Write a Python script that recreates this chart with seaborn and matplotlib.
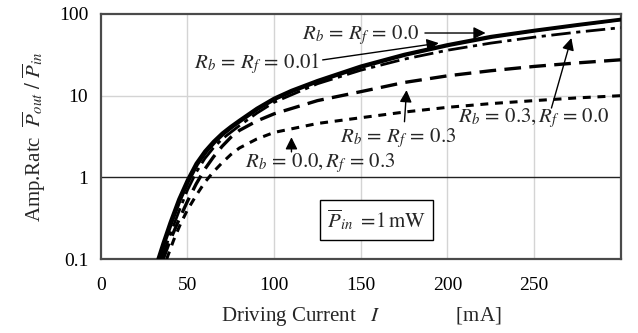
import matplotlib
matplotlib.use("Agg")
import matplotlib.pyplot as plt
import matplotlib.ticker as mticker
import seaborn as sns
import numpy as np

sns.set_style("white")
plt.rcParams['font.family'] = ['Liberation Serif', 'DejaVu Serif']
plt.rcParams['mathtext.fontset'] = 'stix'

# ---- data ----
I_00 = [33, 36, 40, 45, 50, 55, 60, 65, 70, 75, 80, 90, 100, 110, 125, 150, 175, 200, 225, 250, 275, 300]
P_00 = [0.1, 0.158, 0.28, 0.54, 0.93, 1.48, 2.09, 2.75, 3.47, 4.2, 5.0, 7.0, 9.3, 11.6, 15.3, 23, 32, 42, 53, 63, 74, 86]

I_001 = [34, 37, 41, 46, 51, 56, 61, 66, 71, 76, 81, 91, 101, 111, 126, 151, 176, 201, 226, 251, 276, 300]
P_001 = [0.1, 0.155, 0.27, 0.52, 0.9, 1.43, 2.02, 2.66, 3.36, 4.07, 4.85, 6.8, 9.0, 11.2, 14.8, 22.2, 31, 40.7, 51.3, 61.3, 72, 83.5]

I_b3f0 = [35, 40, 45, 50, 55, 60, 65, 70, 80, 90, 100, 125, 150, 175, 200, 225, 250, 275, 300]
P_b3f0 = [0.1, 0.2, 0.38, 0.7, 1.15, 1.7, 2.3, 2.95, 4.3, 6.1, 8.3, 14, 20.5, 28, 36, 44, 52, 60, 68]

I_b3f3 = [36, 40, 45, 50, 55, 60, 65, 70, 75, 80, 90, 100, 125, 150, 175, 200, 225, 250, 275, 300]
P_b3f3 = [0.1, 0.17, 0.30, 0.51, 0.83, 1.26, 1.78, 2.4, 3.09, 3.76, 4.9, 6.0, 8.7, 11.2, 14.5, 17.5, 20.2, 22.8, 25.2, 27.5]

I_b0f3 = [38, 42, 46, 50, 55, 60, 65, 70, 75, 80, 90, 100, 125, 150, 175, 200, 225, 250, 275, 300]
P_b0f3 = [0.1, 0.17, 0.27, 0.4, 0.6, 0.87, 1.17, 1.51, 1.9, 2.29, 2.95, 3.55, 4.57, 5.37, 6.3, 7.2, 8.0, 8.7, 9.4, 10]

x_ticks = [0, 50, 100, 150, 200, 250]
y_ticks = [0.1, 1, 10, 100]
y_ticklabels = ["0.1", "1", "10", "100"]

fig = plt.figure(figsize=(6.38, 3.33), dpi=100)
ax = fig.add_axes([0.158, 0.222, 0.815, 0.736])

ax.set_yscale('log')
ax.set_xlim(0, 300)
ax.set_ylim(0.1, 100)

# grid
for xv in x_ticks[1:]:
    ax.axvline(xv, color='#d4d4d4', lw=1.0, zorder=0)
ax.axhline(10, color='#d4d4d4', lw=1.0, zorder=0)
ax.axhline(1, color='#222222', lw=1.0, zorder=1)

k = 'black'
sns.lineplot(x=I_00, y=P_00, ax=ax, color=k, lw=2.4, zorder=5)
sns.lineplot(x=I_001, y=P_001, ax=ax, color=k, lw=1.6, zorder=5)
l3 = sns.lineplot(x=I_b3f0, y=P_b3f0, ax=ax, color=k, lw=2.0, zorder=4)
l3.lines[-1].set_dashes([7, 2, 1.5, 2])
l4 = sns.lineplot(x=I_b3f3, y=P_b3f3, ax=ax, color=k, lw=2.4, zorder=4)
l4.lines[-1].set_dashes([5, 2.5])
l5 = sns.lineplot(x=I_b0f3, y=P_b0f3, ax=ax, color=k, lw=2.2, zorder=4)
l5.lines[-1].set_dashes([2.6, 2.2])

# ticks
ax.set_xticks(x_ticks)
ax.set_xticklabels([str(v) for v in x_ticks])
ax.xaxis.set_minor_locator(mticker.MultipleLocator(10))
ax.set_yticks(y_ticks)
ax.set_yticklabels(y_ticklabels)
ax.yaxis.set_minor_locator(mticker.LogLocator(base=10, subs=np.arange(2, 10)))
ax.yaxis.set_minor_formatter(mticker.NullFormatter())
ax.tick_params(axis='both', which='both', direction='in', colors='#333333',
               labelcolor='black', labelsize=14, top=False, right=False)
ax.tick_params(axis='x', which='major', length=5, width=1.2, pad=13)
ax.tick_params(axis='x', which='minor', length=4, width=1.0)
ax.tick_params(axis='y', which='major', length=0, pad=9)
ax.tick_params(axis='y', which='minor', length=3, width=1.0)

for s in ax.spines.values():
    s.set_color('#4a4a4a')
    s.set_linewidth(1.6)

ax.set_xlabel(r'Driving Current   $I$' + ' ' * 15 + '[mA]', fontsize=15, labelpad=8)
ax.set_ylabel(r'Amp.Ratc  $\overline{P}_{out}\ /\ \overline{P}_{in}$', fontsize=15, labelpad=8)

fs = 15
arr = dict(arrowstyle='-|>', color='black', lw=1.0, mutation_scale=18, shrinkA=0, shrinkB=0)

ax.text(116, 55, r'$R_b\,=\,R_f\,=\,0.0$', fontsize=fs, va='center', ha='left', zorder=6)
ax.annotate('', xy=(222, 58.5), xytext=(187, 58.5), arrowprops=arr)

ax.text(54, 25, r'$R_b\,=\,R_f\,=\,0.01$', fontsize=fs, va='center', ha='left', zorder=6)
ax.annotate('', xy=(195, 44), xytext=(128, 27.4), arrowprops=arr)

ax.text(138, 3.0, r'$R_b\,=\,R_f\,=\,0.3$', fontsize=fs, va='center', ha='left', zorder=6)
ax.annotate('', xy=(176.4, 11.7), xytext=(175.2, 4.8), arrowprops=arr)

ax.text(83, 1.5, r'$R_b\,=\,0.0,R_f\,=\,0.3$', fontsize=fs, va='center', ha='left', zorder=6)
ax.annotate('', xy=(110, 3.1), xytext=(110, 2.05), arrowprops=arr)

ax.text(206, 5.3, r'$R_b\,=\,0.3,R_f\,=\,0.0$', fontsize=fs, va='center', ha='left', zorder=6)
ax.annotate('', xy=(271.5, 50.8), xytext=(260, 7.06), arrowprops=arr)

ax.text(159, 0.30, r'$\overline{P}_{in}$ $=\!1\,\mathrm{mW}$', fontsize=fs, va='center', ha='center',
        bbox=dict(boxstyle='square,pad=0.35', fc='white', ec='black', lw=1.0), zorder=6)

fig.savefig('out.png', dpi=100)
